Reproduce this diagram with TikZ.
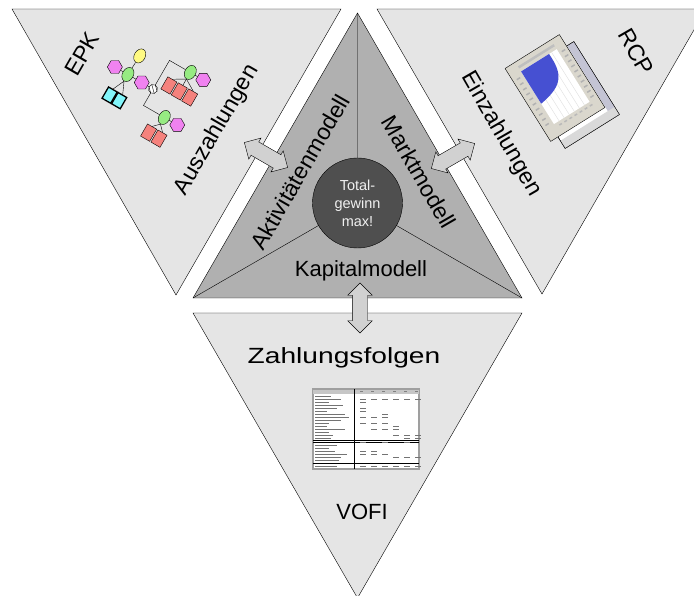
\documentclass[tikz,border=0pt]{standalone}
\usepackage{fontspec}
\setmainfont{Liberation Sans}
\usetikzlibrary{shapes.arrows,shapes.geometric}

\definecolor{outerfill}{gray}{0.9}
\definecolor{innerfill}{gray}{0.69}
\definecolor{corefill}{gray}{0.31}
\definecolor{pipefill}{gray}{0.82}
\definecolor{epkevent}{RGB}{240,130,240}
\definecolor{epkfunc}{RGB}{150,235,130}
\definecolor{epkstart}{RGB}{255,250,130}
\definecolor{epkdata}{RGB}{130,245,250}
\definecolor{epkorg}{RGB}{245,130,125}
\definecolor{rcpblue}{RGB}{70,80,210}
\definecolor{rcpframe}{RGB}{218,215,205}

\begin{document}
\begin{tikzpicture}[x=1pt, y=-1pt,
    big/.style={font=\fontsize{23}{27}\selectfont},
    pipe/.style={double arrow, draw, fill=pipefill, inner sep=7.5pt,
        double arrow head extend=4.5pt, minimum height=50pt},
    event/.style={regular polygon, regular polygon sides=6, shape border rotate=30,
        draw, fill=epkevent, minimum size=15pt, inner sep=0pt},
    func/.style={ellipse, draw, fill=epkfunc, minimum width=11pt,
        minimum height=15pt, inner sep=0pt},
    org/.style={rectangle, draw, fill=epkorg, minimum width=10.5pt,
        minimum height=14pt, inner sep=0pt},
    data/.style={rectangle, draw, line width=1.3pt, fill=epkdata,
        minimum width=10pt, minimum height=13pt, inner sep=0pt}]
    \useasboundingbox (0,0) rectangle (694,596);
    \clip (0,0) rectangle (694,596);

    % outer triangles
    \draw[fill=outerfill] (12,9) -- (341,9) -- (176,295) -- cycle;
    \draw[fill=outerfill] (377,9) -- (706,9) -- (542,294) -- cycle;
    \draw[fill=outerfill] (193,313) -- (522,313) -- (357.5,598) -- cycle;

    % central triangle
    \coordinate (top) at (357.5,13);
    \coordinate (bl) at (193,298);
    \coordinate (br) at (522,298);
    \coordinate (mid) at (357.5,203);
    \draw[fill=innerfill] (top) -- (bl) -- (br) -- cycle;
    \draw (top) -- (mid) (bl) -- (mid) (br) -- (mid);
    \node[circle, draw, fill=corefill, minimum size=90pt, inner sep=0pt, align=center,
        text=gray!12, font=\fontsize{14.5}{18}\selectfont] (ziel) at (mid)
        {Total-\\gewinn\\max!};

    \node[pipe, rotate=-30] (pl) at (266,155) {};
    \node[pipe, rotate=30] (pr) at (453,156) {};
    \node[pipe, rotate=90] (pb) at (360,308) {};

    \node[big, rotate=60] (epk) at (82,54) {EPK};
    \node[big, rotate=60] (aus) at (217,130) {Auszahlungen};
    \node[big, rotate=60] (akt) at (300,172) {Aktivitätenmodell};
    \node[big, rotate=-60] (markt) at (419,172) {Marktmodell};
    \node[big, rotate=-60] (ein) at (501,134) {Einzahlungen};
    \node[big, rotate=-60] (rcp) at (636,52) {RCP};
    \node[big, font=\fontsize{22}{26}\selectfont, anchor=base] (kap) at (361,277) {Kapitalmodell};
    \node[big, font=\fontsize{22}{26}\selectfont, anchor=base, xscale=1.28,
        transform shape] (zf) at (344,363) {Zahlungsfolgen};
    \node[big, font=\fontsize{22}{26}\selectfont, anchor=base] (vofi) at (362,519) {VOFI};

    % EPK sketch
    \begin{scope}[shift={(153,89)}, rotate=-30, transform shape]
        \node[func] (f1) at (-29,0) {};
        \node[func, fill=epkstart] (s1) at (-28,-22) {};
        \node[event] (e0) at (-44,0) {};
        \node[event] (e1) at (-13,0) {};
        \node[data] (d1) at (-34.5,27) {};
        \node[data] (d2) at (-23.5,27) {};
        \node[circle, draw, fill=white, minimum size=9pt, inner sep=0pt] (xor) at (0,0) {};
        \draw (xor.north west) -- (xor.south east) (xor.north) -- (xor.east) (xor.west) -- (xor.south);
        \coordinate (c1) at (0,-33);
        \coordinate (c2) at (0,19);
        \node[func] (f2) at (24,-33) {};
        \node[event] (e2) at (39,-33) {};
        \node[org] (o1) at (12,-11) {};
        \node[org] (o2) at (24,-11) {};
        \node[org] (o3) at (36,-11) {};
        \node[func] (f3) at (24,19) {};
        \node[event] (e3) at (39,19) {};
        \node[org] (o4) at (18,40) {};
        \node[org] (o5) at (30,40) {};
        \draw (s1) -- (f1) (e0) -- (f1) -- (e1) -- (xor);
        \draw (f1.south) -- (d1.north) (f1.south) -- (d2.north);
        \draw (xor) -- (c1) -- (f2) -- (e2);
        \draw (xor) -- (c2) -- (f3) -- (e3);
        \foreach \o in {o1,o2,o3} \draw (f2.south) -- (\o.north);
        \foreach \o in {o4,o5} \draw (f3.south) -- (\o.north);
    \end{scope}

    % RCP screenshots
    \begin{scope}[shift={(569.5,95)}, rotate=32]
        \draw[fill=white] (-32,-43) rectangle (32,43);
        \fill[blue!15!gray!40] (24,-43) rectangle (32,43);
        \fill[gray!30] (-32,34) rectangle (32,43);
        \draw (-32,-43) rectangle (32,43);
    \end{scope}
    \begin{scope}[shift={(555,88)}, rotate=32]
        \draw[fill=rcpframe] (-32,-43) rectangle (32,43);
        \fill[white] (-20,-32) rectangle (22,30);
        \foreach \u in {-14,-8,...,20} \draw[gray!25, thin] (\u,-32) -- (\u,30);
        \fill[rcpblue] (-20,-32) -- (13,-32) .. controls (14,-8) and (8,2) .. (-20,6) -- cycle;
        \foreach \v in {-28,-22,...,28} {
            \fill[gray!60] (-28,\v) rectangle ++(4,1.5);
            \fill[gray!60] (25,\v) rectangle ++(4,1.5);
        }
        \foreach \u in {-16,-10,...,20} \fill[gray!55] (\u,33) rectangle ++(3,1.5);
        \fill[gray!50] (-20,-38) rectangle (22,-35.5);
    \end{scope}

    % VOFI table
    \node[draw=gray!75, line width=2.5pt, fill=white, minimum width=106pt,
        minimum height=80pt, inner sep=0pt] (tab) at (366,429) {};
    \fill[gray!45] (313,390) rectangle (419,393.5);
    \draw[line width=0.9pt] (354,389) -- (354,469);
    \draw[thin] (313,440.5) -- (419,440.5) (313,442.5) -- (419,442.5);
    \draw[line width=0.9pt] (313,463) -- (419,463);
    \foreach \y/\l in {395.5/16, 398.5/26, 401.5/14, 404.5/28, 407.5/22, 410.5/12,
        413.5/30, 416.5/34, 419.5/26, 422.5/14, 425.5/12, 428.5/30, 431.5/14,
        434.5/18, 437.5/16, 445/22, 448/14, 451/20, 454/32, 457/26, 460/24, 466/22}
        \fill[black!55] (315,\y) rectangle ++(\l,1.1);
    \foreach \c in {1,...,6} \fill[black!50] (349+11*\c,391) rectangle ++(3,1.1);
    \foreach \y/\c in {398.5/1, 398.5/2, 398.5/3, 398.5/4, 398.5/5, 398.5/6,
        401.5/1, 407.5/1, 410.5/1, 413.5/3, 416.5/1, 416.5/2, 416.5/3,
        422.5/1, 422.5/2, 422.5/3, 425.5/4, 428.5/2, 428.5/3, 428.5/4,
        434.5/4, 434.5/5, 434.5/6, 437.5/5, 437.5/6, 441.5/1, 441.5/3, 441.5/5,
        451/1, 451/2, 454/1, 454/2, 454/3, 457/4, 457/5, 457/6,
        466/1, 466/2, 466/3, 466/4, 466/5, 466/6}
        \fill[black!55] (349+11*\c,\y) rectangle ++(6,1.1);
\end{tikzpicture}
\end{document}
